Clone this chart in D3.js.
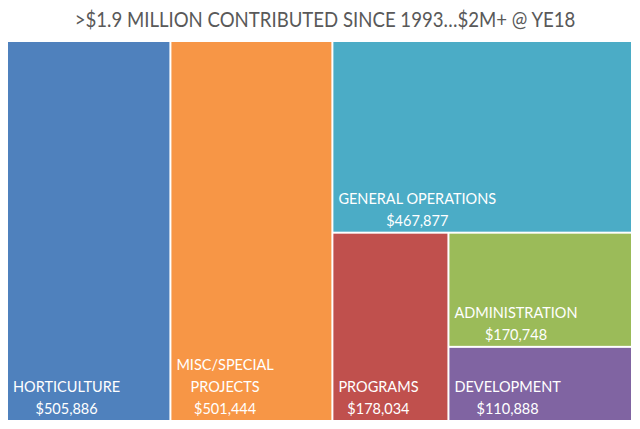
<!DOCTYPE html>
<html>
<head>
<meta charset="utf-8">
<script src="https://cdn.jsdelivr.net/npm/d3@7"></script>
<style>
  body { margin: 0; background: #fff; }
  svg { display: block; }
</style>
</head>
<body>
<div id="chart"></div>
<script>
const title = '>$1.9 MILLION CONTRIBUTED SINCE 1993…$2M+ @ YE18';
const categories = ['HORTICULTURE', 'MISC/SPECIAL PROJECTS', 'GENERAL OPERATIONS', 'PROGRAMS', 'ADMINISTRATION', 'DEVELOPMENT'];
const labelLines = [['HORTICULTURE'], ['MISC/SPECIAL', 'PROJECTS'], ['GENERAL OPERATIONS'], ['PROGRAMS'], ['ADMINISTRATION'], ['DEVELOPMENT']];
const amounts = [505886, 501444, 467877, 178034, 170748, 110888];
const colors = ['#4F81BD', '#F79646', '#4BACC6', '#C0504D', '#9BBB59', '#8064A2'];

const W = 640, H = 429;
const box = { x0: 8, y0: 42, x1: 631, y1: 420 };

const svg = d3.select('#chart')
    .append('svg')
    .attr('width', W)
    .attr('height', H);

// title is narrow in the original (Calibri), squeeze Lato horizontally to the same width
const titleG = svg.append('g');
const titleT = titleG.append('text')
    .attr('text-anchor', 'middle')
    .style('font-family', 'Lato, sans-serif')
    .style('font-size', '22px')
    .style('fill', '#595959')
    .text(title);
const sx = Math.min(1, 501 / titleT.node().getComputedTextLength());
titleG.attr('transform', `translate(325,27) scale(${sx},1)`);

// nesting the way the reference lays it out
const leaf = i => ({ name: categories[i], idx: i, value: amounts[i] });
const root = d3.hierarchy({
    children: [
        leaf(0),
        leaf(1),
        { children: [
            leaf(2),
            { children: [
                leaf(3),
                { children: [leaf(4), leaf(5)] }
            ]}
        ]}
    ]
}).sum(d => d.value || 0);

d3.treemap()
    .tile(d3.treemapSliceDice)
    .size([box.x1 - box.x0, box.y1 - box.y0])
    .paddingInner(2)
    (root);

const g = svg.append('g')
    .attr('transform', `translate(${box.x0},${box.y0})`);

const cells = g.selectAll('g.cell')
    .data(root.leaves())
    .enter()
    .append('g')
    .attr('class', 'cell');

cells.append('rect')
    .attr('x', d => d.x0)
    .attr('y', d => d.y0)
    .attr('width', d => d.x1 - d.x0)
    .attr('height', d => d.y1 - d.y0)
    .style('fill', d => colors[d.data.idx]);

const fmt = d3.format('$,');
const lineH = 22;

cells.each(function (d) {
    const lines = labelLines[d.data.idx].concat([fmt(d.data.value)]);
    const txt = d3.select(this).append('g');
    lines.forEach((ln, k) => {
        txt.append('text')
            .attr('y', d.y1 - 6 - (lines.length - 1 - k) * lineH)
            .attr('text-anchor', 'middle')
            .style('font-family', 'Lato, sans-serif')
            .style('font-size', '14.5px')
            .style('fill', '#fff')
            .text(ln);
    });
    // block is centred on itself, left aligned in the cell
    let maxW = 0;
    txt.selectAll('text').each(function () {
        maxW = Math.max(maxW, this.getComputedTextLength());
    });
    txt.selectAll('text').attr('x', d.x0 + 5 + maxW / 2);
});
</script>
</body>
</html>
